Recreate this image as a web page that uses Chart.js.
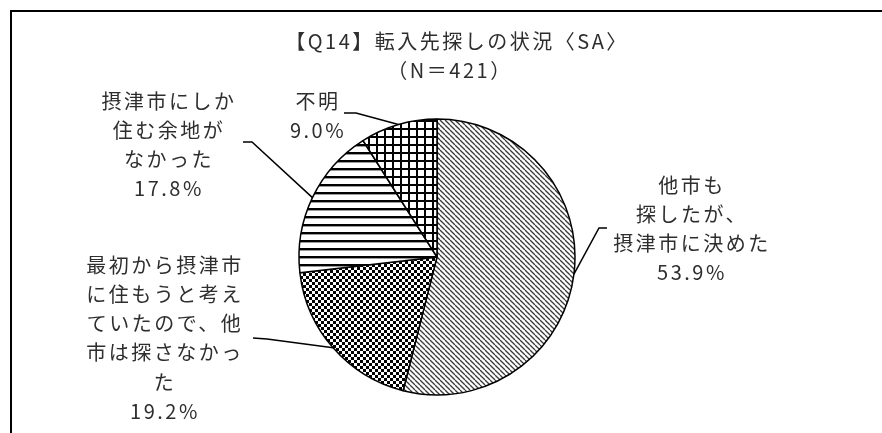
<!DOCTYPE html>
<html lang="ja">
<head>
<meta charset="utf-8">
<title>【Q14】転入先探しの状況</title>
<script src="https://cdn.jsdelivr.net/npm/chart.js@4.4.1/dist/chart.umd.min.js"></script>
<style>
    html, body {
        margin: 0;
        padding: 0;
        background: #ffffff;
        overflow: hidden;
    }

    #frame {
        position: absolute;
        left: 10px;
        top: 10px;
        width: 900px;
        height: 460px;
        border: 2px solid #000;
        box-sizing: border-box;
    }

    #wrap {
        position: absolute;
        left: 0;
        top: 0;
        width: 882px;
        height: 433px;
    }
</style>
</head>
<body>

<div id="frame"></div>

<div id="wrap">
    <canvas id="pieChart"></canvas>
</div>

<script>

// ==========================================
// Data
// ==========================================

const titleLines = ["【Q14】転入先探しの状況〈SA〉", "（N＝421）"];

const categories = [
    ["他市も", "探したが、", "摂津市に決めた"],
    ["最初から摂津市", "に住もうと考え", "ていたので、他", "市は探さなかっ", "た"],
    ["摂津市にしか", "住む余地が", "なかった"],
    ["不明"]
];

const values = [53.9, 19.2, 17.8, 9.0];


// ==========================================
// Label placement (text centre, first line y, leader bend)
// ==========================================

const labelLayout = [
    { x: 692, y: 185, bend: [599, 228], end: [607, 228] },
    { x: 165, y: 265, bend: [267, 339], end: [253, 338] },
    { x: 169, y: 101, bend: [252, 142], end: [243, 142] },
    { x: 318, y: 101, bend: [356, 113], end: [344, 113] }
];

const FONT = '20px "Noto Sans CJK JP", "Noto Sans", sans-serif';
const TEXT_COLOR = "#2e2e2e";
const LINE_H = 29.3;


// ==========================================
// Fill patterns
// ==========================================

function makePattern(size, drawTile) {

    const tile = document.createElement("canvas");
    tile.width = size;
    tile.height = size;

    const t = tile.getContext("2d");
    t.fillStyle = "#ffffff";
    t.fillRect(0, 0, size, size);

    drawTile(t, size);

    return document.createElement("canvas")
        .getContext("2d")
        .createPattern(tile, "repeat");
}

const diagonalPattern = makePattern(5, (t, s) => {
    t.strokeStyle = "#3a3a3a";
    t.lineWidth = 1.3;
    [-s, 0, s].forEach(o => {
        t.beginPath();
        t.moveTo(o, 0);
        t.lineTo(o + s, s);
        t.stroke();
    });
});

const checkerPattern = makePattern(6, (t, s) => {
    t.fillStyle = "#000000";
    t.fillRect(0, 0, s / 2, s / 2);
    t.fillRect(s / 2, s / 2, s / 2, s / 2);
});

const horizontalPattern = makePattern(8, (t, s) => {
    t.fillStyle = "#000000";
    t.fillRect(0, 0, s, 2);
    t.fillStyle = "#9a9a9a";
    t.fillRect(0, 2, s, 1);
});

const gridPattern = makePattern(8, (t, s) => {
    t.fillStyle = "#000000";
    t.fillRect(0, 0, s, 2);
    t.fillRect(0, 0, 2, s);
});


// ==========================================
// Title, labels and leader lines
// ==========================================

const calloutPlugin = {

    id: "callouts",

    afterDraw(chart) {

        const ctx = chart.ctx;
        const arcs = chart.getDatasetMeta(0).data;

        ctx.save();

        ctx.font = FONT;
        ctx.fillStyle = TEXT_COLOR;
        ctx.textAlign = "center";
        ctx.textBaseline = "middle";
        ctx.letterSpacing = "2.5px";

        // title
        ctx.fillText(titleLines[0], 457, 41);
        ctx.fillText(titleLines[1], 450, 70);

        // labels
        categories.forEach((lines, i) => {

            const pos = labelLayout[i];
            const all = lines.concat([values[i].toFixed(1) + "%"]);

            all.forEach((line, j) => {
                ctx.fillText(line, pos.x, pos.y + j * LINE_H);
            });

            // leader from the outer edge at the slice mid angle
            const arc = arcs[i];
            const mid = (arc.startAngle + arc.endAngle) / 2;
            const sx = arc.x + Math.cos(mid) * arc.outerRadius;
            const sy = arc.y + Math.sin(mid) * arc.outerRadius;

            ctx.strokeStyle = "#000000";
            ctx.lineWidth = 1.5;
            ctx.beginPath();
            ctx.moveTo(sx, sy);
            ctx.lineTo(pos.bend[0], pos.bend[1]);
            ctx.lineTo(pos.end[0], pos.end[1]);
            ctx.stroke();

        });

        ctx.restore();

    }

};


// ==========================================
// Pie chart
// ==========================================

const pieChart = new Chart(document.getElementById("pieChart"), {

    type: "pie",

    data: {

        labels: categories.map(c => c.join("")),

        datasets: [{

            data: values,

            backgroundColor: [
                diagonalPattern,
                checkerPattern,
                horizontalPattern,
                gridPattern
            ],

            borderColor: "#000000",
            borderWidth: 1.5

        }]

    },

    options: {

        responsive: true,
        maintainAspectRatio: false,
        animation: false,

        radius: 138,

        layout: {
            padding: {
                top: 81,
                bottom: 0,
                left: 0,
                right: 8
            }
        },

        plugins: {
            legend: { display: false },
            tooltip: { enabled: false },
            title: { display: false }
        }

    },

    plugins: [calloutPlugin]

});

</script>
</body>
</html>
